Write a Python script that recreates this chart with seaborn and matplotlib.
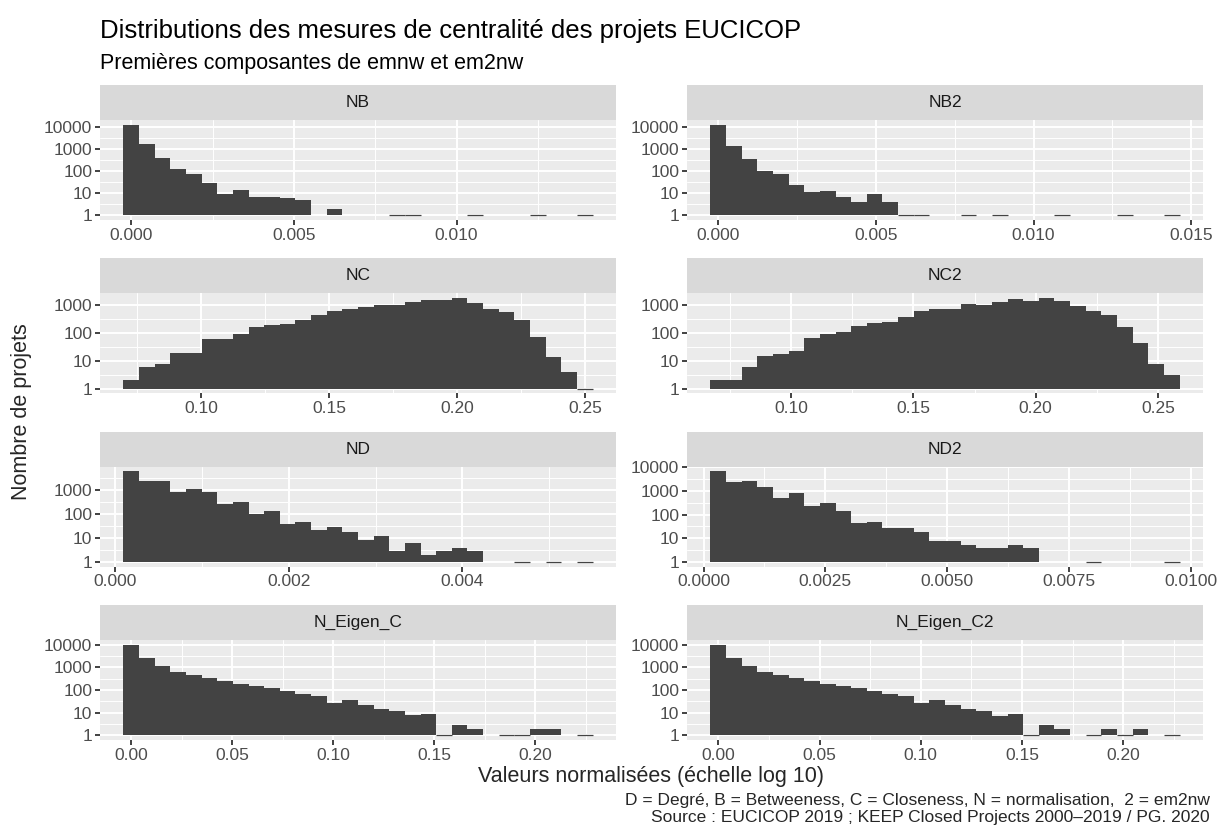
import numpy as np
import pandas as pd
import matplotlib
matplotlib.use("Agg")
import matplotlib.pyplot as plt
from matplotlib.ticker import FixedLocator
import seaborn as sns

# --- DATA : bin counts (30 bins per panel, log10 y scale) ---
panels = ['NB', 'NB2', 'NC', 'NC2', 'ND', 'ND2', 'N_Eigen_C', 'N_Eigen_C2']

nb = [13000, 1700, 390, 125, 75, 29, 9, 14, 7, 7, 6, 5, 0, 2, 0,
      0, 0, 1, 1, 0, 0, 0, 1, 0, 0, 0, 1, 0, 0, 1]
nb2 = [13000, 1350, 355, 100, 75, 24, 11, 13, 7, 4, 9, 4, 1, 1, 0,
       0, 1, 0, 1, 0, 0, 0, 1, 0, 0, 0, 1, 0, 0, 1]
nc = [2, 6, 8, 19, 19, 59, 59, 96, 170, 190, 218, 300, 455, 630, 740,
      875, 1030, 1030, 1320, 1550, 1550, 1830, 1210, 740, 580, 300, 75, 14, 4, 1]
nc2 = [2, 2, 6, 15, 17, 23, 68, 95, 112, 182, 234, 253, 380, 630, 740,
       740, 1120, 1020, 1320, 1690, 1420, 1830, 1420, 950, 630, 450, 168, 45, 8, 3]
nd = [6300, 2520, 2520, 875, 1170, 875, 275, 335, 105, 141, 40, 49, 22, 30, 18,
      8, 12, 3, 6, 2, 3, 4, 3, 0, 0, 1, 0, 1, 0, 1]
nd2 = [6700, 2300, 2520, 1420, 490, 800, 228, 305, 141, 44, 49, 27, 27, 18, 8,
       8, 5, 4, 4, 5, 4, 0, 0, 0, 1, 0, 0, 0, 0, 1]
eig = [10000, 2630, 1180, 590, 480, 322, 240, 177, 145, 118, 87, 65, 53, 26, 35,
       21, 14, 12, 8, 9, 1, 3, 2, 0, 1, 1, 2, 2, 0, 1]
eig2 = [10000, 2630, 1180, 590, 480, 322, 240, 177, 145, 118, 87, 65, 53, 26, 35,
        21, 14, 12, 7, 9, 1, 3, 2, 0, 1, 2, 1, 2, 0, 1]
counts = [nb, nb2, nc, nc2, nd, nd2, eig, eig2]

# range of the data (centre of first and last bin)
x_min = [0.0, 0.0, 0.0728, 0.0702, 0.000185, 0.000303, 0.0, 0.0]
x_max = [0.01394, 0.01438, 0.2499, 0.2556, 0.005408, 0.009611, 0.2244, 0.2239]

x_ticks = [
    ['0.000', '0.005', '0.010'],
    ['0.000', '0.005', '0.010', '0.015'],
    ['0.10', '0.15', '0.20', '0.25'],
    ['0.10', '0.15', '0.20', '0.25'],
    ['0.000', '0.002', '0.004'],
    ['0.0000', '0.0025', '0.0050', '0.0075', '0.0100'],
    ['0.00', '0.05', '0.10', '0.15', '0.20'],
    ['0.00', '0.05', '0.10', '0.15', '0.20'],
]

TITLE = 'Distributions des mesures de centralité des projets EUCICOP'
SUBTITLE = 'Premières composantes de emnw et em2nw'
XLAB = 'Valeurs normalisées (échelle log 10)'
YLAB = 'Nombre de projets'
CAPTION = ['D = Degré, B = Betweeness, C = Closeness, N = normalisation,  2 = em2nw',
           'Source : EUCICOP 2019 ; KEEP Closed Projects 2000\u20132019 / PG. 2020']

# --- STYLE (ggplot2 theme_grey look) ---
BAR = '#434343'
sns.set_theme(style='darkgrid', rc={
    'axes.facecolor': '#EBEBEB',
    'grid.color': 'white',
    'xtick.color': '#333333',
    'ytick.color': '#333333',
    'xtick.labelcolor': '#4D4D4D',
    'ytick.labelcolor': '#4D4D4D',
})
plt.rcParams['font.family'] = ['Liberation Sans', 'DejaVu Sans']

W, H = 1220, 839
fig = plt.figure(figsize=(W / 100, H / 100), dpi=100)


def box(x0, y0, w, h):
    # pixel box (top-left origin) -> figure fraction
    return [x0 / W, 1 - (y0 + h) / H, w / W, h / H]


col_x = [100, 687]
pw, ph, sh = 516, 100, 35
row_top = [85, 258.3, 431.6, 605]

for i, name in enumerate(panels):
    r, c = divmod(i, 2)
    cnt = np.array(counts[i], dtype=float)
    w = (x_max[i] - x_min[i]) / 29
    edges = np.linspace(x_min[i] - w / 2, x_max[i] + w / 2, 31)
    centers = x_min[i] + w * np.arange(30)
    m = cnt > 0
    df = pd.DataFrame({'x': centers[m], 'logc': np.log10(cnt[m])})

    ax = fig.add_axes(box(col_x[c], row_top[r] + sh, pw, ph))
    sns.histplot(data=df, x='x', weights='logc', bins=list(edges), ax=ax,
                 color=BAR, alpha=1, linewidth=0)
    # bins holding a single project have zero height on the log scale
    ones = cnt == 1
    ax.hlines(np.zeros(ones.sum()), edges[:-1][ones], edges[1:][ones],
              color=BAR, lw=0.9, zorder=3)

    # limits with ggplot's 5 % expansion
    span = edges[-1] - edges[0]
    ax.set_xlim(edges[0] - 0.05 * span, edges[-1] + 0.05 * span)
    ymax = df['logc'].max()
    ax.set_ylim(-0.05 * ymax, 1.05 * ymax)

    xt = [float(t) for t in x_ticks[i]]
    ax.set_xticks(xt)
    ax.set_xticklabels(x_ticks[i])
    step = xt[1] - xt[0]
    ax.xaxis.set_minor_locator(FixedLocator(np.arange(xt[0] - step / 2, xt[-1] + step, step)))
    yt = [k for k in range(5) if k <= 1.05 * ymax]
    ax.set_yticks(yt)
    ax.set_yticklabels([str(10 ** k) for k in yt])
    ax.yaxis.set_minor_locator(FixedLocator(np.arange(-0.5, 5, 1.0)))

    ax.grid(which='major', color='white', lw=1.4)
    ax.grid(which='minor', color='white', lw=0.7)
    ax.set_axisbelow(True)
    for s in ax.spines.values():
        s.set_visible(False)
    ax.tick_params(which='major', length=3.5, width=1.3, labelsize=12.5, pad=2,
                   bottom=True, left=True)
    ax.tick_params(which='minor', length=0)
    ax.set_xlabel('')
    ax.set_ylabel('')

    st = fig.add_axes(box(col_x[c], row_top[r], pw, sh))
    st.set_facecolor('#D9D9D9')
    st.set_xticks([])
    st.set_yticks([])
    st.grid(False)
    for s in st.spines.values():
        s.set_visible(False)
    st.text(0.5, 0.5, name, ha='center', va='center', fontsize=12.5,
            color='#1A1A1A', transform=st.transAxes)

fig.text(100 / W, 1 - 38 / H, TITLE, fontsize=18.5, color='black', va='baseline')
fig.text(100 / W, 1 - 69 / H, SUBTITLE, fontsize=15.5, color='black', va='baseline')
fig.text(651 / W, 1 - 782 / H, XLAB, fontsize=15.5, ha='center', va='baseline')
fig.text(22 / W, 1 - 412 / H, YLAB, fontsize=15.5, rotation=90, ha='center', va='center')
fig.text(1210 / W, 1 - 805 / H, CAPTION[0], fontsize=12.5, ha='right', va='baseline')
fig.text(1210 / W, 1 - 822 / H, CAPTION[1], fontsize=12.5, ha='right', va='baseline')

fig.savefig('out.png', dpi=100, facecolor='white')
